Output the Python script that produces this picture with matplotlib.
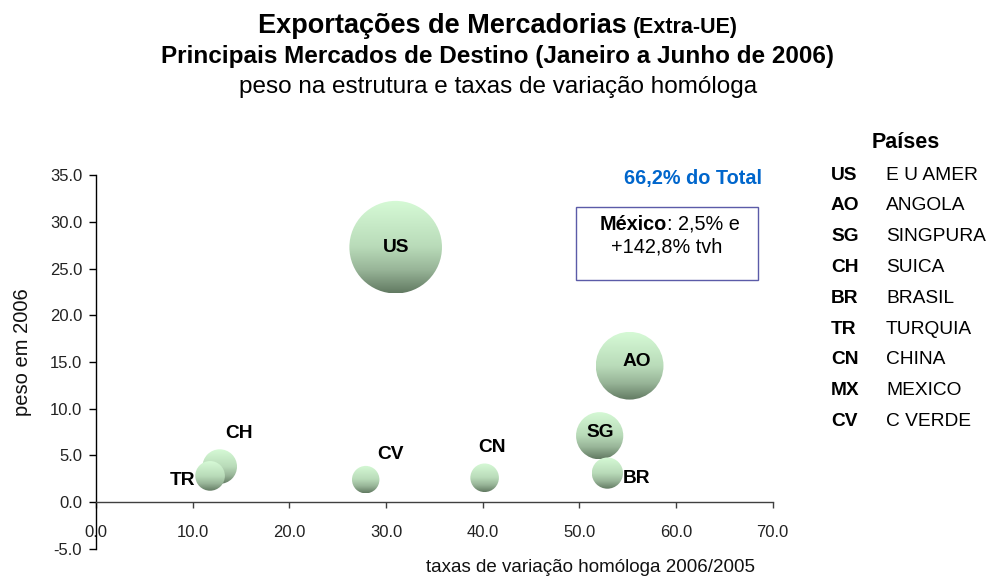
import numpy as np
import matplotlib
matplotlib.use("Agg")
import matplotlib.pyplot as plt
from matplotlib.patches import Ellipse, Rectangle
from matplotlib.colors import LinearSegmentedColormap

plt.rcParams['font.family'] = ['Liberation Sans', 'DejaVu Sans']

# ---------------- data ----------------
codes = ['US', 'AO', 'SG', 'CH', 'BR', 'TR', 'CN', 'CV']
growth = [31.0, 55.2, 52.1, 12.8, 52.9, 11.8, 40.2, 27.9]   # taxa de variação homóloga (%)
weight = [27.3, 14.6, 7.1, 3.8, 3.1, 2.8, 2.6, 2.4]        # peso em 2006 (%)

legend_codes = ['US', 'AO', 'SG', 'CH', 'BR', 'TR', 'CN', 'MX', 'CV']
legend_names = ['E U AMER', 'ANGOLA', 'SINGPURA', 'SUICA', 'BRASIL',
                'TURQUIA', 'CHINA', 'MEXICO', 'C VERDE']

x_ticks = [0, 10, 20, 30, 40, 50, 60, 70]
y_ticks = [-5, 0, 5, 10, 15, 20, 25, 30, 35]

total_text = '66,2% do Total'
mexico_bold = 'México'
mexico_line1 = ': 2,5% e'
mexico_line2 = '+142,8% tvh'

# label offsets (points) relative to bubble centre
label_offsets = {'US': (0, 0), 'AO': (5, 3), 'SG': (0.7, 2), 'BR': (21, -3.6),
                 'CN': (5, 22), 'CV': (17.5, 18), 'CH': (13.7, 24), 'TR': (-20, -3.6)}

W, H = 989, 579
fig = plt.figure(figsize=(W / 100, H / 100), dpi=100)

def fx(px):
    return px / W

def fy(py):
    return 1 - py / H

ax = fig.add_axes([fx(96), fy(548.7), 676.7 / W, 373.4 / H])
ax.set_xlim(0, 70)
ax.set_ylim(-5, 35)

# axes styling
ax.spines['top'].set_visible(False)
ax.spines['right'].set_visible(False)
ax.spines['bottom'].set_position(('data', 0))
ax.spines['bottom'].set_color('#404040')
ax.spines['left'].set_color('#000000')
ax.spines['left'].set_linewidth(1.0)
ax.spines['bottom'].set_linewidth(1.0)
ax.set_xticks(x_ticks)
ax.set_yticks(y_ticks)
ax.set_xticklabels([f'{v:.1f}' for v in x_ticks])
ax.set_yticklabels([f'{v:.1f}' for v in y_ticks])
ax.tick_params(axis='x', direction='out', length=4, width=1, pad=12.5,
               labelsize=12, colors='#404040', labelcolor='#222222')
ax.tick_params(axis='y', direction='out', length=5, width=1, pad=5,
               labelsize=12, colors='#000000', labelcolor='#222222')

# bubble gradient
cmap = LinearSegmentedColormap.from_list(
    'bub', [(0.0, '#d6fad6'), (0.5, '#b9dbb9'), (0.75, '#98b598'), (1.0, '#627a62')])
grad = np.linspace(0, 1, 256).reshape(-1, 1)

p0 = ax.transData.transform((0, 0))
p1 = ax.transData.transform((1, 1))
sx = p1[0] - p0[0]
sy = p1[1] - p0[1]
bubble_k = 8.86  # pixel radius per sqrt(weight)

order = np.argsort(weight)[::-1]
z = 2
for i in order:
    x, y, w = growth[i], weight[i], weight[i]
    r = bubble_k * np.sqrt(w)
    rx, ry = r / sx, r / sy
    ell = Ellipse((x, y), 2 * rx, 2 * ry, facecolor='none', edgecolor='none',
                  zorder=z)
    ax.add_patch(ell)
    im = ax.imshow(grad, extent=(x - rx, x + rx, y - ry, y + ry), origin='upper',
                   cmap=cmap, vmin=0, vmax=1, aspect='auto',
                   interpolation='bilinear', zorder=z)
    im.set_clip_path(ell)
    z += 1

ax.set_xlim(0, 70)
ax.set_ylim(-5, 35)

for c, x, y in zip(codes, growth, weight):
    ax.annotate(c, (x, y), xytext=label_offsets[c], textcoords='offset points',
                ha='center', va='center', fontsize=13.8, fontweight='bold',
                color='#000000', zorder=20)

# axis titles
fig.text(fx(23), fy(352), 'peso em 2006', rotation=90, ha='center', va='center',
         fontsize=14.5, color='#111111')
fig.text(fx(590), fy(568), 'taxas de variação homóloga 2006/2005', ha='center',
         va='center', fontsize=13.5, color='#111111')

# titles
t1 = fig.text(fx(250), fy(33), 'Exportações de Mercadorias', ha='left',
              va='baseline', fontsize=19.5, fontweight='bold')
fig.canvas.draw()
ext = t1.get_window_extent()
t2 = fig.text((ext.x1 + 6) / W, fy(33), '(Extra-UE)', ha='left', va='baseline',
              fontsize=15.5, fontweight='bold')
fig.canvas.draw()
ext2 = t2.get_window_extent()
shift = (498 - (ext.x0 + ext2.x1) / 2) / W
t1.set_x(t1.get_position()[0] + shift)
t2.set_x(t2.get_position()[0] + shift)

fig.text(fx(497.5), fy(63), 'Principais Mercados de Destino (Janeiro a Junho de 2006)',
         ha='center', va='baseline', fontsize=17.5, fontweight='bold')
fig.text(fx(498), fy(93), 'peso na estrutura e taxas de variação homóloga',
         ha='center', va='baseline', fontsize=17.5)

# total note
fig.text(fx(762), fy(178), total_text, ha='right', va='center', fontsize=14.3,
         fontweight='bold', color='#0066CC')

# Mexico box
fig.patches.append(Rectangle((fx(575.7), fy(280)), (758 - 575.7) / W, (280 - 206.7) / H,
                             transform=fig.transFigure, facecolor='white',
                             edgecolor='#5b5ba8', linewidth=1.0))
fig.text(fx(667), fy(224.5), mexico_bold, ha='right', va='center', fontsize=14.3,
         fontweight='bold')
fig.text(fx(667), fy(224.5), mexico_line1, ha='left', va='center', fontsize=14.3)
fig.text(fx(667), fy(247), mexico_line2, ha='center', va='center', fontsize=14.3)

# legend (Países)
fig.text(fx(906), fy(143), 'Países', ha='center', va='center', fontsize=15.5,
         fontweight='bold')
row_y0, row_dy = 175, 30.8
for k, (c, n) in enumerate(zip(legend_codes, legend_names)):
    yy = row_y0 + k * row_dy
    fig.text(fx(831), fy(yy), c, ha='left', va='center', fontsize=13.8,
             fontweight='bold')
    fig.text(fx(886), fy(yy), n, ha='left', va='center', fontsize=13.8)

fig.savefig('out.png', dpi=100)
